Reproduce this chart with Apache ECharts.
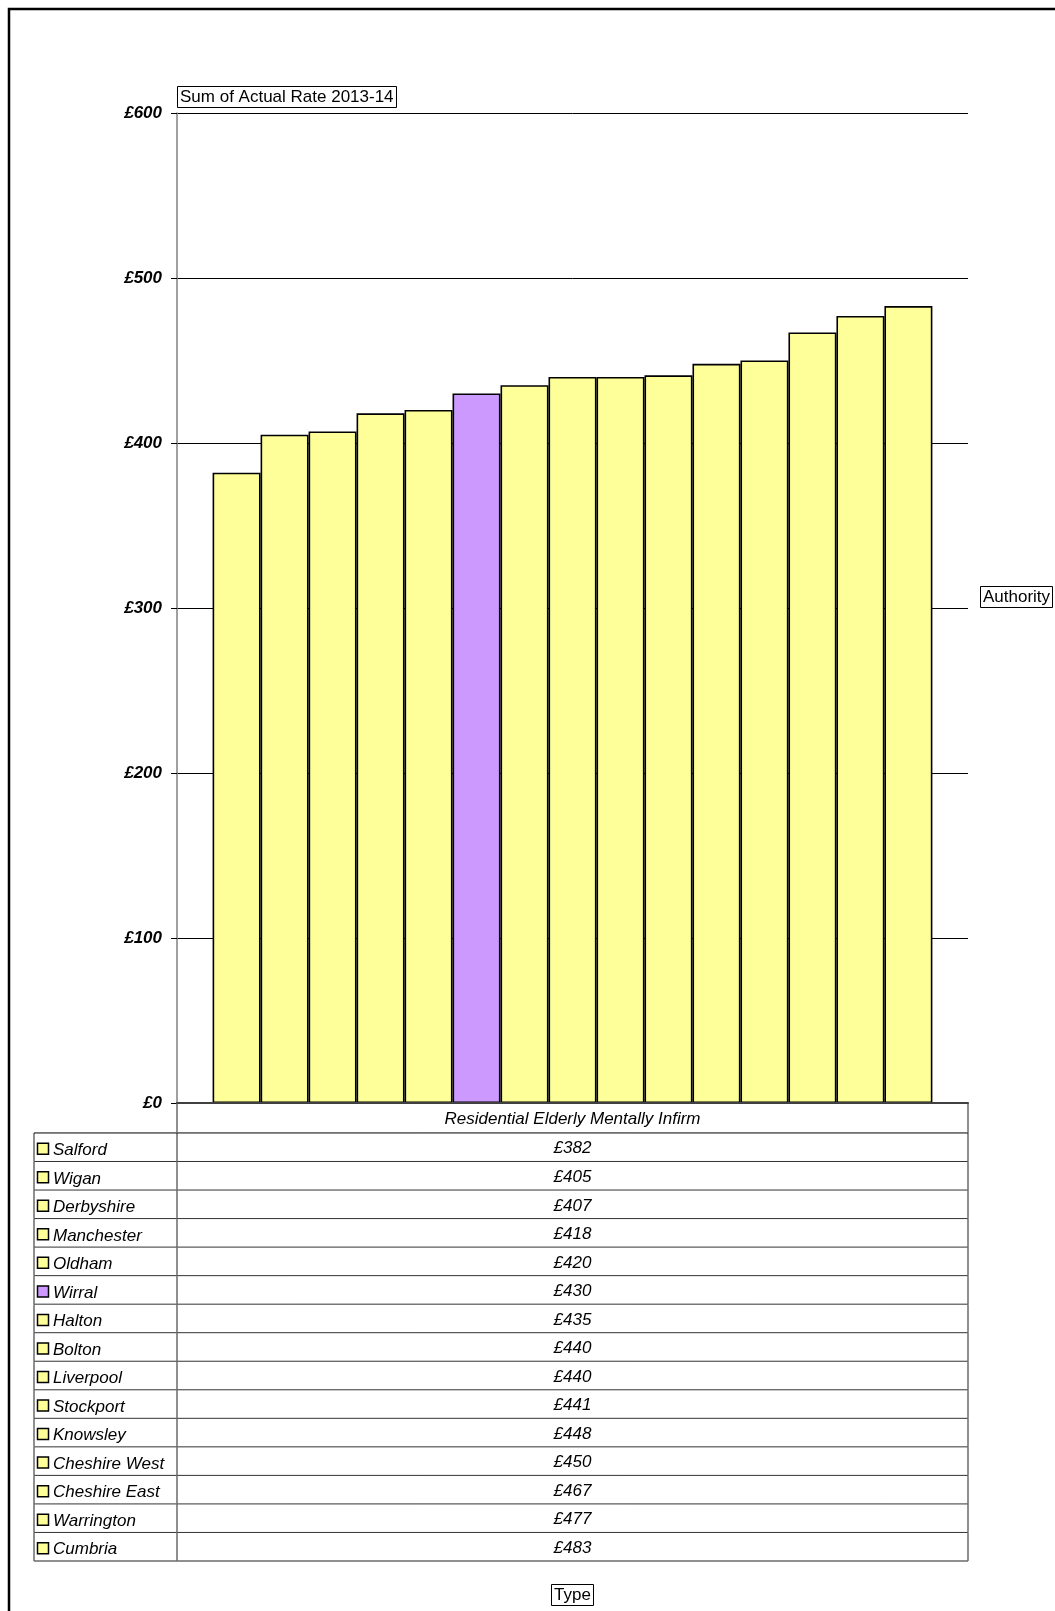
<!DOCTYPE html>
<html>
<head>
<meta charset="utf-8">
<script src="https://cdn.jsdelivr.net/npm/echarts@6/dist/echarts.min.js"></script>
<style>
html,body{margin:0;padding:0;background:#fff;}
#chart{width:1055px;height:1611px;}
</style>
</head>
<body>
<div id="chart"></div>
<script>
// ---- data ----
const types = ['Residential Elderly Mentally Infirm'];
const authorities = ['Salford','Wigan','Derbyshire','Manchester','Oldham','Wirral','Halton','Bolton','Liverpool','Stockport','Knowsley','Cheshire West','Cheshire East','Warrington','Cumbria'];
const rates = [382,405,407,418,420,430,435,440,440,441,448,450,467,477,483];
const highlighted = ['Wirral'];
const yMin = 0, yMax = 600, yStep = 100;
const dataTitle = 'Sum of Actual Rate 2013-14';
const seriesField = 'Authority';
const categoryField = 'Type';

// ---- styling ----
const FONT = "'Liberation Sans', Arial, sans-serif";
const YELLOW = '#FFFF99';
const PURPLE = '#CC99FF';
const LABEL_COL = (177 - 34) / (968 - 34);
const colorOf = name => highlighted.includes(name) ? PURPLE : YELLOW;

const chart = echarts.init(document.getElementById('chart'), null, {renderer: 'canvas'});

const barSeries = authorities.map((name, i) => ({
  type: 'bar',
  name: name,
  xAxisIndex: 0,
  yAxisIndex: 0,
  data: [rates[i]],
  barGap: '0%',
  barCategoryGap: '9%',
  itemStyle: {color: colorOf(name), borderColor: '#000', borderWidth: 1.6},
  emphasis: {disabled: true},
  animation: false
}));

function renderRow(params, api) {
  const i = api.value(0);
  const rate = api.value(1);
  const name = authorities[i];
  const last = authorities.length - 1;
  const top = api.coord([0, i])[1];
  const bot = api.coord([0, i + 1])[1];
  const x0 = api.coord([0, i])[0];
  const xd = api.coord([LABEL_COL, i])[0];
  const x1 = api.coord([1, i])[0];
  const xc = (xd + x1) / 2;
  const mid = (top + bot) / 2;
  const gray = {stroke: '#6a6a6a', lineWidth: 1.5};
  const children = [
    {type: 'line', shape: {x1: x0, y1: bot, x2: x1, y2: bot},
      style: i === last ? gray : {stroke: '#333', lineWidth: 1}},
    {type: 'line', shape: {x1: x0, y1: top, x2: x0, y2: bot}, style: gray},
    {type: 'line', shape: {x1: xd, y1: top, x2: xd, y2: bot}, style: gray},
    {type: 'line', shape: {x1: x1, y1: top, x2: x1, y2: bot}, style: gray},
    {type: 'rect', shape: {x: x0 + 3.5, y: mid - 4, width: 11, height: 11},
      style: {fill: colorOf(name), stroke: '#000', lineWidth: 1.5}},
    {type: 'text', style: {text: name, x: x0 + 19, y: mid + 3, align: 'left', verticalAlign: 'middle',
      fontSize: 17, fontStyle: 'italic', fontFamily: FONT, fill: '#000'}},
    {type: 'text', style: {text: '£' + rate, x: xc, y: mid + 1.5, align: 'center', verticalAlign: 'middle',
      fontSize: 17, fontStyle: 'italic', fontFamily: FONT, fill: '#000'}}
  ];
  if (i === 0) {
    const htop = api.coord([0, -1.05])[1];
    children.push(
      {type: 'line', shape: {x1: x0, y1: top, x2: x1, y2: top}, style: {stroke: '#000', lineWidth: 1}},
      {type: 'line', shape: {x1: xd, y1: htop, x2: xd, y2: top}, style: gray},
      {type: 'line', shape: {x1: x1, y1: htop, x2: x1, y2: top}, style: gray}
    );
  }
  return {type: 'group', children: children};
}

const tableSeries = {
  type: 'custom',
  xAxisIndex: 1,
  yAxisIndex: 1,
  renderItem: renderRow,
  data: rates.map((r, i) => [i, r]),
  encode: {x: 0, y: 0},
  clip: false,
  silent: true,
  z: 5,
  animation: false
};

const boxText = {fontSize: 17, fontWeight: 'normal', color: '#000', fontFamily: FONT, lineHeight: 20};

const option = {
  backgroundColor: '#fff',
  animation: false,
  textStyle: {fontFamily: FONT},
  title: [
    {text: dataTitle, left: 177, top: 86, borderColor: '#000', borderWidth: 1, padding: [1, 3], textStyle: boxText},
    {text: seriesField, left: 980, top: 586, borderColor: '#000', borderWidth: 1, padding: [1, 3], textStyle: boxText},
    {text: categoryField, left: 551, top: 1584, borderColor: '#000', borderWidth: 1, padding: [1, 3], textStyle: boxText}
  ],
  grid: [
    {left: 177, right: 87, top: 113, height: 990},
    {left: 34, right: 87, top: 1103, height: 458}
  ],
  xAxis: [
    {type: 'category', gridIndex: 0, data: types,
      axisLine: {show: true, lineStyle: {color: '#404040', width: 2}},
      axisTick: {show: false},
      axisLabel: {margin: 8, fontSize: 17, fontStyle: 'italic', color: '#000', fontFamily: FONT},
      splitLine: {show: false}, z: 6},
    {type: 'value', gridIndex: 1, min: 0, max: 1, show: false}
  ],
  yAxis: [
    {type: 'value', gridIndex: 0, min: yMin, max: yMax, interval: yStep,
      axisLine: {show: true, lineStyle: {color: '#808080', width: 1.5}},
      axisTick: {show: true, length: 6, lineStyle: {color: '#000', width: 1}},
      axisLabel: {margin: 15, formatter: v => '£' + v, fontSize: 17, fontWeight: 'bold', fontStyle: 'italic', color: '#000', fontFamily: FONT, padding: [3, 0, 0, 0]},
      splitLine: {show: true, lineStyle: {color: '#000', width: 1}}},
    {type: 'value', gridIndex: 1, min: -1.05, max: 15, inverse: true, show: false}
  ],
  series: barSeries.concat([tableSeries]),
  graphic: [
    {type: 'rect', shape: {x: 9, y: 9, width: 1100, height: 1700},
      style: {fill: 'none', stroke: '#000', lineWidth: 2.5}, silent: true, z: 100}
  ]
};

chart.setOption(option);
</script>
</body>
</html>
